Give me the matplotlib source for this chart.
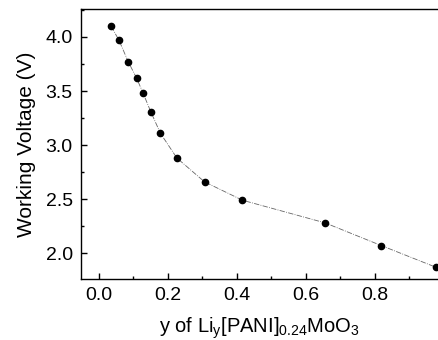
import matplotlib
matplotlib.use("Agg")
import matplotlib.pyplot as plt
from matplotlib.ticker import MultipleLocator

y_li = [0.035, 0.058, 0.085, 0.109, 0.128, 0.150, 0.178, 0.226, 0.306, 0.416, 0.656, 0.819, 0.977]
voltage = [4.10, 3.97, 3.77, 3.62, 3.48, 3.31, 3.11, 2.88, 2.66, 2.49, 2.28, 2.07, 1.87]

plt.rcParams['font.family'] = ['Liberation Sans', 'DejaVu Sans']

fig = plt.figure(figsize=(4.38, 3.40), dpi=100)
ax = fig.add_axes([0.185, 0.179, 0.815, 0.795])

ax.plot(y_li, voltage, color='#666666', linestyle='-.', linewidth=0.6, zorder=1)
ax.plot(y_li, voltage, 'o', color='black', markersize=4.5, linestyle='none', zorder=2, clip_on=False)

ax.set_xlim(-0.052, 0.983)
ax.set_ylim(1.76, 4.26)
ax.xaxis.set_major_locator(MultipleLocator(0.2))
ax.xaxis.set_minor_locator(MultipleLocator(0.1))
ax.yaxis.set_major_locator(MultipleLocator(0.5))
ax.yaxis.set_minor_locator(MultipleLocator(0.25))
ax.xaxis.set_major_formatter(matplotlib.ticker.FormatStrFormatter('%.1f'))
ax.yaxis.set_major_formatter(matplotlib.ticker.FormatStrFormatter('%.1f'))
ax.tick_params(which='both', direction='in', labelsize=14, width=1)
ax.tick_params(which='major', length=4, pad=6)
ax.tick_params(which='minor', length=2)
ax.spines['right'].set_visible(False)
for s in ['left', 'bottom', 'top']:
    ax.spines[s].set_linewidth(1.0)

ax.set_xlabel('y of Li$_\\mathregular{y}$[PANI]$_\\mathregular{0.24}$MoO$_\\mathregular{3}$', fontsize=14.5, labelpad=8)
ax.set_ylabel('Working Voltage (V)', fontsize=15, labelpad=7)

fig.savefig('out.png', dpi=100)
